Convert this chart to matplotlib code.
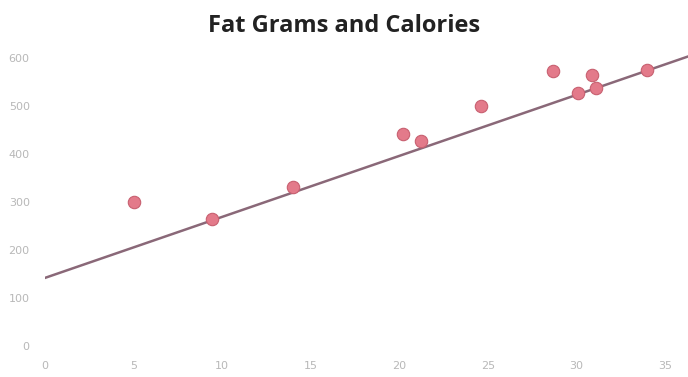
import matplotlib.pyplot as plt
import numpy as np

# fat grams vs calories
fat_grams = [5.0, 9.4, 14.0, 20.2, 21.2, 24.6, 28.7, 30.1, 30.9, 31.1, 34.0]
calories = [300, 264, 331, 442, 427, 500, 573, 527, 565, 537, 575]

# trendline as shown in the picture
trend_intercept = 142
trend_slope = 12.7

x_ticks = [0, 5, 10, 15, 20, 25, 30, 35]
y_ticks = [0, 100, 200, 300, 400, 500, 600]

fig = plt.figure(figsize=(6.88, 3.77), dpi=100)
ax = fig.add_axes([0.0654, 0.082, 0.9346, 0.828])

xs = np.array([0, 36.3])
ax.plot(xs, trend_intercept + trend_slope * xs, color='#8a6878', lw=1.8, zorder=1)
ax.scatter(fat_grams, calories, s=80, color='#e37a8a', edgecolors='#c86070',
           linewidths=0.8, zorder=2)

ax.set_xlim(0, 36.3)
ax.set_ylim(0, 650)
ax.set_xticks(x_ticks)
ax.set_yticks(y_ticks)
ax.tick_params(length=0, labelsize=8, colors='#b8b8b8', pad=11)
for s in ax.spines.values():
    s.set_visible(False)

fig.text(0.5, 0.93, 'Fat Grams and Calories', ha='center', va='center',
         fontsize=17, fontweight='bold', family='Open Sans', color='#222222')

fig.savefig('out.png', dpi=100)
